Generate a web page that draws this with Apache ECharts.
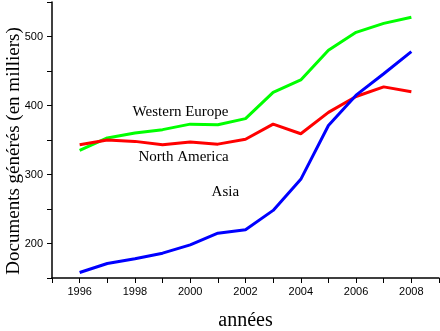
<!DOCTYPE html>
<html>
<head>
<meta charset="utf-8">
<script src="https://cdn.jsdelivr.net/npm/echarts@6/dist/echarts.min.js"></script>
<style>
  html, body { margin: 0; padding: 0; background: #fff; }
  #chart { width: 440px; height: 331px; }
</style>
</head>
<body>
<div id="chart"></div>
<script>
// Années couvertes
var years = [1996, 1997, 1998, 1999, 2000, 2001, 2002, 2003, 2004, 2005, 2006, 2007, 2008];

// Documents générés, en milliers
var westernEurope = [335, 353, 360, 365, 373, 372, 381, 419, 437, 480, 506, 519, 528];
var northAmerica  = [343, 350, 348, 343, 347, 344, 351, 373, 359, 390, 413, 427, 420];
var asia          = [158, 171, 178, 186, 198, 215, 220, 248, 293, 371, 415, 446, 478];

// Étiquettes des courbes, placées en coordonnées de données [année, valeur]
var seriesLabels = [
  { text: 'Western Europe', at: [1999.65, 390] },
  { text: 'North America',  at: [1999.76, 325] },
  { text: 'Asia',           at: [2001.27, 274] }
];

var yTitle = 'Documents générés (en milliers)';

function pairs(values) {
  return years.map(function (y, i) { return [y, values[i]]; });
}

var chart = echarts.init(document.getElementById('chart'), null, { renderer: 'canvas' });

var axisLine = { show: true, lineStyle: { color: '#000', width: 1.5 } };
var tickFont = { color: '#000', fontFamily: 'Liberation Sans', fontSize: 11 };

chart.setOption({
  animation: false,
  backgroundColor: '#fff',
  grid: { left: 52, right: 1, top: 2, bottom: 53, containLabel: false, outerBoundsMode: 'none' },
  xAxis: {
    type: 'value',
    min: 1995, max: 2009, interval: 1,
    name: 'années',
    nameLocation: 'middle',
    nameGap: 33,
    nameTextStyle: { color: '#000', fontFamily: 'Liberation Serif', fontSize: 20 },
    axisLine: axisLine,
    axisTick: { show: true, length: 5, lineStyle: { color: '#000', width: 1 } },
    axisLabel: Object.assign({
      margin: 8,
      showMinLabel: true, showMaxLabel: true,
      formatter: function (v) { return (v % 2 === 0) ? String(v) : ''; }
    }, tickFont),
    splitLine: { show: false }
  },
  yAxis: {
    type: 'value',
    min: 150, max: 550, interval: 50,
    axisLine: axisLine,
    axisTick: { show: true, length: 5, lineStyle: { color: '#000', width: 1 } },
    axisLabel: Object.assign({
      margin: 9,
      formatter: function (v) { return (v % 100 === 0) ? String(v) : ''; }
    }, tickFont),
    splitLine: { show: false }
  },
  series: [
    { name: 'Western Europe', type: 'line', data: pairs(westernEurope), showSymbol: false,
      lineStyle: { color: '#00ff00', width: 3 }, itemStyle: { color: '#00ff00' } },
    { name: 'North America', type: 'line', data: pairs(northAmerica), showSymbol: false,
      lineStyle: { color: '#ff0000', width: 3 }, itemStyle: { color: '#ff0000' } },
    { name: 'Asia', type: 'line', data: pairs(asia), showSymbol: false,
      lineStyle: { color: '#0000ff', width: 3 }, itemStyle: { color: '#0000ff' } }
  ]
});

// Titre vertical de l'axe des ordonnées, et étiquettes des courbes
var graphics = [{
  type: 'text', x: 14, y: 151, rotation: Math.PI / 2,
  style: {
    text: yTitle, fill: '#000',
    font: '19px "Liberation Serif"',
    align: 'center', verticalAlign: 'middle'
  }
}];
seriesLabels.forEach(function (l) {
  var p = chart.convertToPixel({ gridIndex: 0 }, l.at);
  graphics.push({
    type: 'text', x: p[0], y: p[1],
    style: {
      text: l.text, fill: '#000',
      font: '15px "Liberation Serif"',
      align: 'center', verticalAlign: 'middle'
    }
  });
});
chart.setOption({ graphic: graphics });
</script>
</body>
</html>
